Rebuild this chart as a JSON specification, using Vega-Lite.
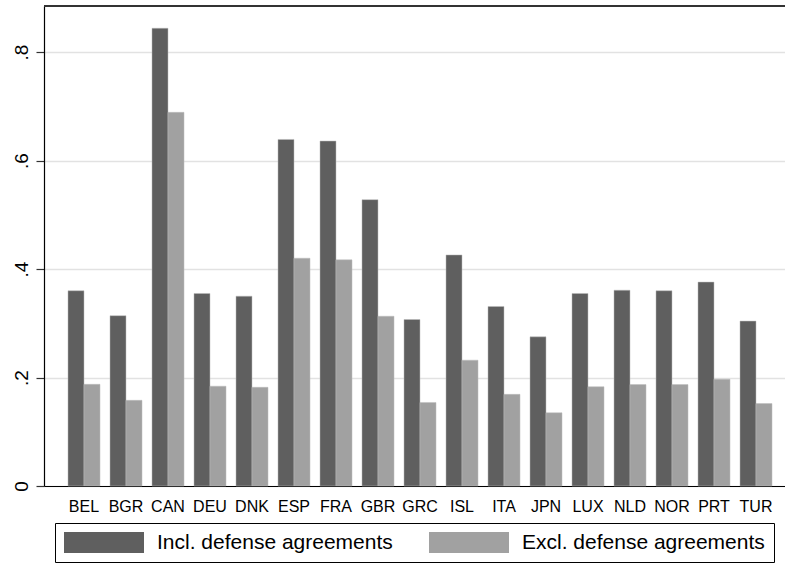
{
  "$schema": "https://vega.github.io/schema/vega-lite/v6.json",
  "autosize": {"type": "none"},
  "padding": {"left": 44, "top": 6, "right": 0, "bottom": 77},
  "width": 741,
  "height": 480,
  "background": "white",
  "config": {
    "font": "Liberation Sans",
    "view": {"stroke": null},
    "axis": {"labelFont": "Liberation Sans", "labelColor": "black"},
    "legend": {"labelFont": "Liberation Sans"}
  },
  "layer": [
    {
      "data": {"values": [
        {"country": "BEL", "series": "Incl. defense agreements", "value": 0.360},
        {"country": "BEL", "series": "Excl. defense agreements", "value": 0.1875},
        {"country": "BGR", "series": "Incl. defense agreements", "value": 0.314},
        {"country": "BGR", "series": "Excl. defense agreements", "value": 0.158},
        {"country": "CAN", "series": "Incl. defense agreements", "value": 0.844},
        {"country": "CAN", "series": "Excl. defense agreements", "value": 0.689},
        {"country": "DEU", "series": "Incl. defense agreements", "value": 0.355},
        {"country": "DEU", "series": "Excl. defense agreements", "value": 0.184},
        {"country": "DNK", "series": "Incl. defense agreements", "value": 0.350},
        {"country": "DNK", "series": "Excl. defense agreements", "value": 0.182},
        {"country": "ESP", "series": "Incl. defense agreements", "value": 0.639},
        {"country": "ESP", "series": "Excl. defense agreements", "value": 0.420},
        {"country": "FRA", "series": "Incl. defense agreements", "value": 0.636},
        {"country": "FRA", "series": "Excl. defense agreements", "value": 0.417},
        {"country": "GBR", "series": "Incl. defense agreements", "value": 0.528},
        {"country": "GBR", "series": "Excl. defense agreements", "value": 0.313},
        {"country": "GRC", "series": "Incl. defense agreements", "value": 0.307},
        {"country": "GRC", "series": "Excl. defense agreements", "value": 0.154},
        {"country": "ISL", "series": "Incl. defense agreements", "value": 0.426},
        {"country": "ISL", "series": "Excl. defense agreements", "value": 0.232},
        {"country": "ITA", "series": "Incl. defense agreements", "value": 0.331},
        {"country": "ITA", "series": "Excl. defense agreements", "value": 0.169},
        {"country": "JPN", "series": "Incl. defense agreements", "value": 0.275},
        {"country": "JPN", "series": "Excl. defense agreements", "value": 0.135},
        {"country": "LUX", "series": "Incl. defense agreements", "value": 0.355},
        {"country": "LUX", "series": "Excl. defense agreements", "value": 0.183},
        {"country": "NLD", "series": "Incl. defense agreements", "value": 0.361},
        {"country": "NLD", "series": "Excl. defense agreements", "value": 0.187},
        {"country": "NOR", "series": "Incl. defense agreements", "value": 0.360},
        {"country": "NOR", "series": "Excl. defense agreements", "value": 0.187},
        {"country": "PRT", "series": "Incl. defense agreements", "value": 0.376},
        {"country": "PRT", "series": "Excl. defense agreements", "value": 0.197},
        {"country": "TUR", "series": "Incl. defense agreements", "value": 0.304},
        {"country": "TUR", "series": "Excl. defense agreements", "value": 0.152}
      ]},
      "mark": {"type": "bar", "stroke": "#bdbdbd", "strokeWidth": 0.5},
      "encoding": {
        "x": {
          "field": "country", "type": "nominal", "sort": null,
          "scale": {"paddingInner": 0.2381, "paddingOuter": 0.4405, "align": 0.6486},
          "axis": {
            "title": null, "ticks": false, "labelAngle": 0, "labelFontSize": 16,
            "labelPadding": 12, "domainColor": "black", "domainWidth": 1.2
          }
        },
        "xOffset": {
          "field": "series", "type": "nominal",
          "sort": ["Incl. defense agreements", "Excl. defense agreements"],
          "scale": {"paddingInner": 0, "paddingOuter": 0}
        },
        "y": {
          "field": "value", "type": "quantitative",
          "scale": {"domain": [0, 0.885], "nice": false, "zero": true},
          "axis": {
            "title": null, "values": [0, 0.2, 0.4, 0.6, 0.8],
            "labelExpr": "datum.value == 0 ? '0' : slice(format(datum.value, '.1f'), 1)",
            "labelAngle": 270, "labelFontSize": 19, "labelPadding": 5,
            "tickSize": 8, "tickColor": "#333", "tickWidth": 1.2,
            "domainColor": "black", "domainWidth": 1.2,
            "grid": true, "gridColor": "#e2e2e2", "gridWidth": 1.5
          }
        },
        "color": {
          "field": "series", "type": "nominal",
          "sort": ["Incl. defense agreements", "Excl. defense agreements"],
          "scale": {"range": ["#5f5f5f", "#a1a1a1"]},
          "legend": {
            "title": null, "orient": "none", "legendX": 11, "legendY": 517,
            "direction": "horizontal", "columns": 2,
            "symbolType": "M-1,-1H6.619V1H-1Z", "symbolSize": 441,
            "symbolStrokeWidth": 0, "labelFontSize": 21, "labelColor": "black",
            "labelOffset": 72, "columnPadding": 36, "padding": 9,
            "strokeColor": "black", "labelLimit": 400
          }
        }
      }
    },
    {
      "data": {"values": [{"edge": "top"}]},
      "mark": {"type": "rule", "color": "#333", "strokeWidth": 2},
      "encoding": {"y": {"datum": 0.885}}
    }
  ]
}
